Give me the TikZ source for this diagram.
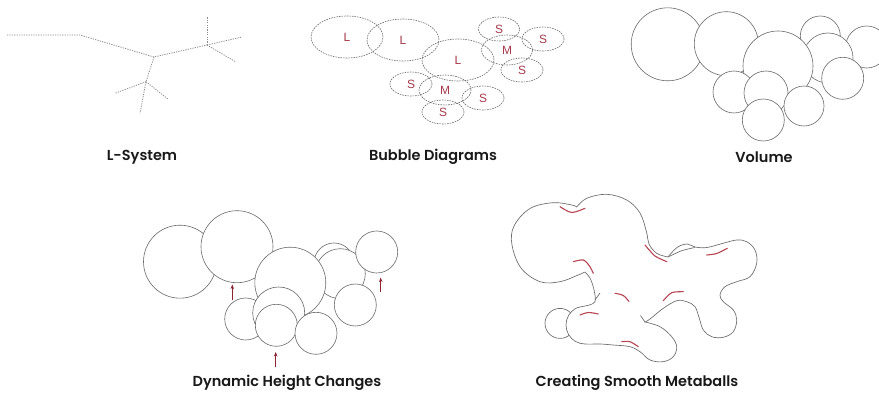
\documentclass[tikz,border=0pt]{standalone}
\usepackage{fontspec}
\newfontfamily\labfont{Poppins}[UprightFont=*-SemiBold]
\newfontfamily\bubfont{Liberation Sans}
\usetikzlibrary{shapes.geometric,arrows.meta}
\definecolor{lsys}{HTML}{8A8A8A}
\definecolor{bubline}{HTML}{6A6A6A}
\definecolor{bubtext}{HTML}{A63A4A}
\definecolor{circline}{HTML}{6A6A6A}
\definecolor{arrowred}{HTML}{8E2332}
\definecolor{metared}{HTML}{B84552}
\tikzset{
 caption/.style={font=\labfont\fontsize{14.5}{16}\selectfont, text=black!90, inner sep=0pt},
 lsline/.style={draw=lsys, line width=0.8pt, dash pattern=on 1.2pt off 1.2pt},
 bubble/.style={ellipse, draw=bubline, line width=0.6pt, dash pattern=on 1.6pt off 1pt, inner sep=0pt, text=bubtext, font=\bubfont\fontsize{12}{13}\selectfont},
 vol/.style={draw=circline, fill=white, line width=0.6pt},
 hgt/.style={-{Stealth[length=4.5pt,width=3.5pt]}, draw=arrowred, line width=0.9pt},
 metaline/.style={draw=circline, line width=0.65pt},
 metaarc/.style={draw=metared, line width=1.1pt, line cap=round},
}
\begin{document}
\begin{tikzpicture}[x=1pt,y=-1pt]
\useasboundingbox (0,0) rectangle (879,398);
\clip (0,0) rectangle (879,398);
\fill[white] (0,0) rectangle (879,398);

% ---------------- L-System ----------------
\coordinate (l0) at (7,35);
\coordinate (l1) at (80,35);
\coordinate (l2) at (154,57);
\coordinate (l3) at (207,45);
\coordinate (l4) at (207,17);
\coordinate (l5) at (242,37);
\coordinate (l6) at (236,62);
\coordinate (l7) at (146,81.7);
\coordinate (l8) at (115,93.3);
\coordinate (l9) at (168.3,99.3);
\coordinate (l10) at (140,113.3);
\draw[lsline] (l0) -- (l1) -- (l2) -- (l3);
\draw[lsline] (l3) -- (l4);
\draw[lsline] (l3) -- (l5);
\draw[lsline] (l3) -- (l6);
\draw[lsline] (l2) -- (l7) -- (l10);
\draw[lsline] (l7) -- (l8);
\draw[lsline] (l7) -- (l9);
\node[caption] (capL) at (142,157) {L-System};

% ---------------- Bubble Diagrams ----------------
\node[bubble, minimum width=72pt, minimum height=42pt] (b1) at (347,37) {L};
\node[bubble, minimum width=72pt, minimum height=42pt] (b2) at (403,40) {L};
\node[bubble, minimum width=72pt, minimum height=42pt] (b3) at (458,60) {L};
\node[bubble, minimum width=41pt, minimum height=24pt] (b4) at (499,29) {S};
\node[bubble, minimum width=51pt, minimum height=30pt] (b5) at (507,50) {M};
\node[bubble, minimum width=42pt, minimum height=24pt] (b6) at (543,39) {S};
\node[bubble, minimum width=42pt, minimum height=24pt] (b7) at (522,70) {S};
\node[bubble, minimum width=42pt, minimum height=24pt] (b8) at (411,84) {S};
\node[bubble, minimum width=52pt, minimum height=30pt] (b9) at (445,90) {M};
\node[bubble, minimum width=42pt, minimum height=24pt] (b10) at (483,98) {S};
\node[bubble, minimum width=42pt, minimum height=24pt] (b11) at (443,112) {S};
\node[caption] (capB) at (433,157) {Bubble Diagrams};

% ---------------- Volume ----------------
\filldraw[vol] (667.7,44.3) circle[radius=36.5];
\filldraw[vol] (726.3,43.7) circle[radius=32];
\filldraw[vol] (820.3,36) circle[radius=20];
\filldraw[vol] (866.7,47) circle[radius=21];
\filldraw[vol] (828,58) circle[radius=25];
\filldraw[vol] (778,66) circle[radius=35];
\filldraw[vol] (842.7,78.3) circle[radius=21];
\filldraw[vol] (734,92) circle[radius=21];
\filldraw[vol] (766,93) circle[radius=22];
\filldraw[vol] (763.3,120) circle[radius=21];
\filldraw[vol] (804,106) circle[radius=20];
\node[caption] (capV) at (764,157) {Volume};

% ---------------- Dynamic Height Changes ----------------
\filldraw[vol] (180,261.7) circle[radius=36.5];
\filldraw[vol] (237,246.7) circle[radius=36];
\filldraw[vol] (334,263) circle[radius=20];
\filldraw[vol] (340.3,273.7) circle[radius=25];
\filldraw[vol] (290.3,282.7) circle[radius=35.5];
\filldraw[vol] (376.7,252) circle[radius=21];
\filldraw[vol] (355.3,305) circle[radius=21];
\filldraw[vol] (245.7,319) circle[radius=21];
\filldraw[vol] (278.7,313) circle[radius=26];
\filldraw[vol] (276.3,325.3) circle[radius=21];
\filldraw[vol] (316,333.3) circle[radius=21];
\coordinate (a1s) at (232.3,300);   \coordinate (a1e) at (232.3,284.5);
\coordinate (a2s) at (380.7,292);   \coordinate (a2e) at (380.7,277.5);
\coordinate (a3s) at (275.7,367);   \coordinate (a3e) at (275.7,352);
\draw[hgt] (a1s) -- (a1e);
\draw[hgt] (a2s) -- (a2e);
\draw[hgt] (a3s) -- (a3e);
\node[caption] (capD) at (287,383) {Dynamic Height Changes};

% ---------------- Metaballs ----------------
\filldraw[metaline, fill=white] (560,323.4) circle[radius=15];
\filldraw[metaline, fill=white] (585,272)
 -- plot[smooth, tension=0.6] coordinates {(585,272) (577,275.5) (560,281.7) (540,281.7) (521,268) (512,245) (514,226) (530,208.5) (553,202.7) (571.7,205) (576.7,207)}
 -- plot[smooth, tension=0.6] coordinates {(576.7,207) (586.7,198.3) (606.7,194.3) (626.7,200) (640,213) (646.5,232) (649,244) (656.7,253.3) (668,257)}
 -- plot[smooth, tension=0.6] coordinates {(668,257) (677,247.5) (687,244) (695,247) (707,247.5) (723,243.3) (736.7,240) (746.7,241.7) (755,250) (756.7,263.3) (750,276.7) (736.7,281.7) (725,286.7) (720,295) (723.3,301.7) (733.3,310) (736.7,320) (733.3,331.7) (723.3,337.3) (711.7,336.7) (703.3,330) (699.3,318.3) (695,306.7) (686.7,301.7) (676.7,300.7) (663.3,308.3) (650,319) (645,322)}
 -- plot[smooth, tension=0.6] coordinates {(645,322) (660,326.7) (671.7,336.7) (676.7,346.7) (673.3,356.7) (663,361.7) (650,360) (640,351.7) (630,346.7) (613,345) (600,344) (585,344) (575.5,341.5) (568.5,334.5) (566,325) (568.5,315.5) (575.5,308.5) (585,306) (591,304.5) (595,301.5) (595,295) (593,286) (590,278) (585,272)}
 -- cycle;
\draw[metaline] plot[smooth] coordinates {(668,257) (681.7,250.7) (695,247.5)};
\draw[metaline] (645,322) -- (640.5,315.5);
\draw[metaline] (595,300) -- (600,293);
\draw[metaarc] plot[smooth] coordinates {(560,206.7) (571.7,212.5) (585,208.3)};
\draw[metaarc] plot[smooth] coordinates {(573.3,261.7) (583.3,260) (589.5,266) (593.3,273.3)};
\draw[metaarc] plot[smooth] coordinates {(645,245) (655,256) (667,261.7)};
\draw[metaarc] plot[smooth] coordinates {(615,293.3) (623.3,295.5) (629,301.5)};
\draw[metaarc] plot[smooth] coordinates {(706.7,255) (716.7,253.5) (727.3,248.3)};
\draw[metaarc] plot[smooth] coordinates {(663.3,300.7) (671.7,292.7) (683.3,291.7)};
\draw[metaarc] plot[smooth] coordinates {(580,315) (588.3,312.5) (598.3,314)};
\draw[metaarc] plot[smooth] coordinates {(621.7,341.7) (630,341.7) (638.3,346.7)};
\node[caption] (capM) at (637,383) {Creating Smooth Metaballs};
\end{tikzpicture}
\end{document}
